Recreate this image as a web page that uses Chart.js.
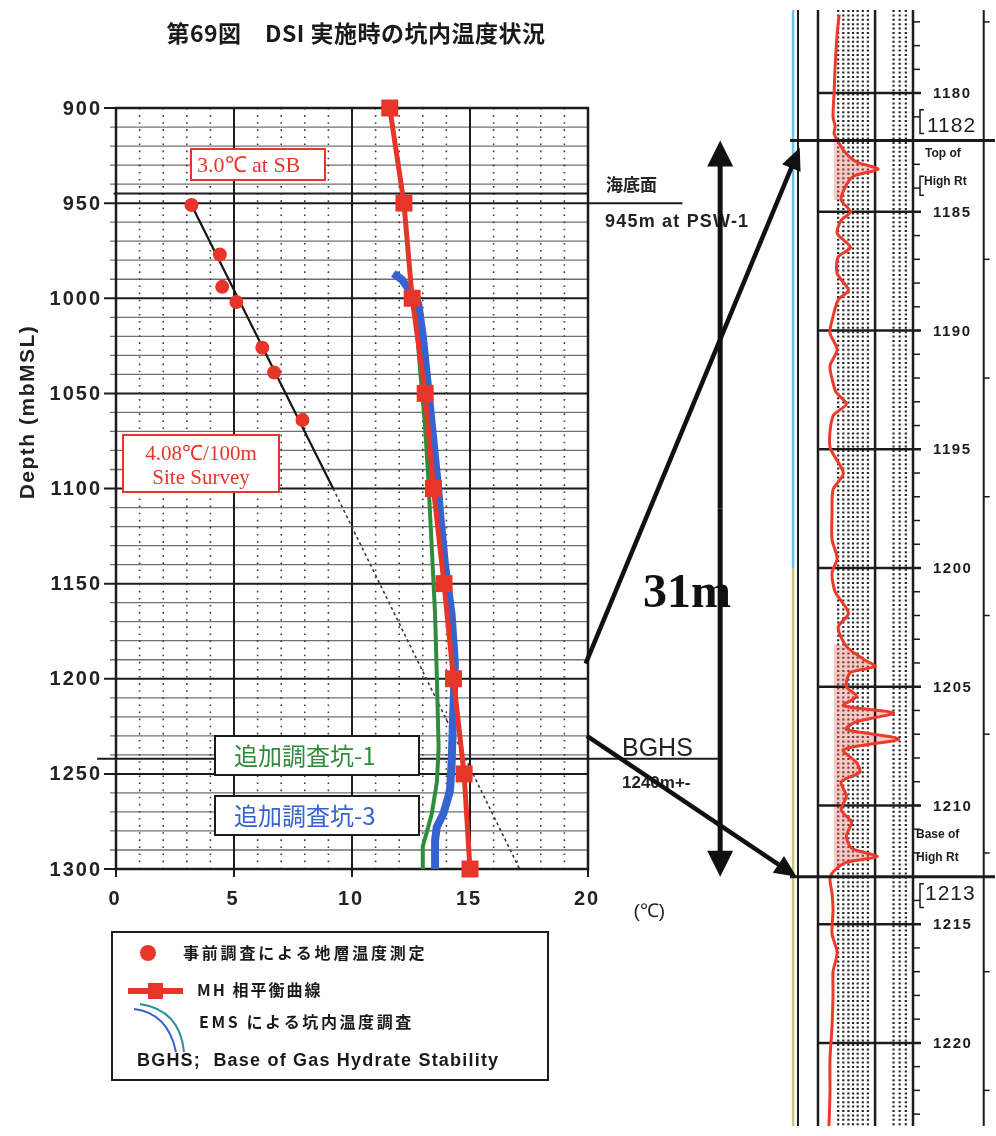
<!DOCTYPE html>
<html>
<head>
<meta charset="utf-8">
<script src="https://cdn.jsdelivr.net/npm/chart.js@4.4.1/dist/chart.umd.min.js"></script>
<style>
  html, body { margin: 0; padding: 0; background: #fff; }
  #wrap { position: relative; width: 996px; height: 1136px; }
  canvas { position: absolute; left: 0; top: 0; }
</style>
</head>
<body>
<div id="wrap">
  <canvas id="logChart" width="996" height="1136"></canvas>
  <canvas id="mainChart" width="996" height="1136"></canvas>
</div>
<script>
// ---- data ----
// site survey formation temperatures (red dots)
const surveyTemp = [3.2, 4.4, 4.5, 5.1, 6.2, 6.7, 7.9];
const surveyDepth = [951, 977, 994, 1002, 1026, 1039, 1064];

// 4.08 C/100m gradient line (solid part, then dashed part)
const gradSolidTemp = [3.2, 9.2];
const gradSolidDepth = [951, 1100];
const gradDashTemp = [9.2, 17.1];
const gradDashDepth = [1100, 1300];

// MH phase equilibrium curve (red squares)
const mhTemp = [11.6, 12.2, 12.55, 13.1, 13.45, 13.9, 14.3, 14.75, 15.0];
const mhDepth = [900, 950, 1000, 1050, 1100, 1150, 1200, 1250, 1300];

// 追加調査坑-3 (blue)
const well3Temp = [11.75, 12.1, 12.46, 12.81, 13.0, 13.09, 13.24, 13.45, 13.66, 13.73, 13.94, 14.22, 14.36, 14.29, 14.22, 14.15, 13.87, 13.59, 13.52, 13.52];
const well3Depth = [987, 990, 996, 1003, 1020, 1031, 1049, 1075, 1101, 1113, 1140, 1166, 1192, 1218, 1245, 1259, 1271, 1278, 1285, 1300];

// 追加調査坑-1 (green)
const well1Temp = [12.6, 12.74, 12.9, 13.09, 13.22, 13.38, 13.52, 13.6, 13.67, 13.6, 13.38, 13.16, 13.0, 13.0];
const well1Depth = [1005, 1015, 1040, 1066, 1092, 1131, 1166, 1201, 1236, 1254, 1271, 1281, 1288, 1300];

// axis ticks
const depthTicks = [900, 950, 1000, 1050, 1100, 1150, 1200, 1250, 1300];
const tempTicks = [0, 5, 10, 15, 20];

// resistivity log (right panel)
const logDepth = [1176.7, 1177.5, 1178.9, 1180.0, 1181.0, 1181.4, 1181.7, 1182.05, 1182.5, 1182.9, 1183.2, 1183.5, 1183.95, 1184.5, 1185.0, 1185.35, 1185.9, 1186.5, 1186.9, 1187.6, 1188.3, 1188.7, 1189.4, 1190.1, 1190.8, 1191.5, 1192.2, 1192.6, 1193.1, 1193.6, 1194.9, 1196.0, 1196.7, 1197.7, 1198.8, 1199.6, 1200.2, 1201.0, 1201.9, 1202.5, 1203.3, 1203.85, 1204.15, 1204.4, 1205.0, 1205.4, 1205.8, 1206.1, 1206.5, 1206.8, 1207.2, 1207.65, 1208.2, 1208.6, 1209.0, 1209.6, 1210.2, 1210.7, 1211.3, 1211.8, 1212.15, 1212.4, 1212.8, 1213.1, 1213.7, 1214.4, 1215.4, 1216.2, 1217.0, 1217.9, 1219.3, 1220.7, 1222.1, 1223.5];
const logValue = [4.8, 4.6, 4.4, 4.3, 4.2, 4.4, 4.3, 4.7, 5.4, 6.5, 8.6, 6.2, 5.4, 5.0, 5.9, 5.0, 4.6, 5.9, 4.7, 4.6, 5.7, 4.7, 4.2, 3.9, 4.6, 3.9, 4.2, 4.5, 5.5, 4.2, 3.9, 5.2, 4.2, 4.1, 4.1, 4.6, 4.1, 4.4, 5.7, 4.7, 5.5, 7.2, 8.3, 5.9, 5.5, 6.5, 5.2, 10.1, 6.3, 5.5, 10.6, 5.2, 6.5, 6.8, 5.0, 5.5, 5.0, 6.0, 5.5, 6.0, 8.5, 5.5, 4.2, 3.9, 4.1, 4.2, 4.1, 4.6, 4.2, 4.2, 4.1, 3.9, 3.9, 3.8];
const logMajorTicks = [1180, 1185, 1190, 1195, 1200, 1205, 1210, 1215, 1220];
const highRtTop = 1182;
const highRtBase = 1213;

const RED = "#e8352a";
const BLUE = "#3563cf";
const GREEN = "#2f8c3c";
const INK = "#1c1c1c";

const toXY = (xs, ys) => xs.map((v, i) => ({ x: v, y: ys[i] }));

// ---------------- right panel: resistivity log ----------------
const logFrame = {
  id: "logFrame",
  beforeDatasetsDraw(chart) {
    const { ctx, chartArea: a, scales: { x, y } } = chart;
    ctx.save();
    // coloured edge line (cyan above 1200, olive below)
    const ex = x.getPixelForValue(0.3);
    ctx.lineWidth = 2.5;
    ctx.strokeStyle = "#6cc6e6";
    ctx.beginPath(); ctx.moveTo(ex, a.top); ctx.lineTo(ex, y.getPixelForValue(1200)); ctx.stroke();
    ctx.strokeStyle = "#c9c77a";
    ctx.beginPath(); ctx.moveTo(ex, y.getPixelForValue(1200)); ctx.lineTo(ex, a.bottom); ctx.stroke();

    // dotted texture columns
    ctx.strokeStyle = "#262626";
    ctx.lineWidth = 2.2;
    ctx.setLineDash([2, 2.4]);
    [4.7, 5.2, 5.7, 6.15, 6.6, 7.1, 7.6, 10.1, 10.7, 11.3].forEach((v) => {
      const px = x.getPixelForValue(v);
      ctx.beginPath(); ctx.moveTo(px, a.top); ctx.lineTo(px, a.bottom); ctx.stroke();
    });
    ctx.setLineDash([]);

    // pink shading in the high resistivity zones
    const pts = chart.getDatasetMeta(0).data;
    const base = x.getPixelForValue(4.3);
    ctx.fillStyle = "rgba(240, 110, 100, 0.38)";
    [[1182, 1184.5], [1203.2, 1213]].forEach(([d0, d1]) => {
      ctx.beginPath();
      ctx.moveTo(base, y.getPixelForValue(d0));
      logDepth.forEach((d, i) => {
        if (d >= d0 && d <= d1) ctx.lineTo(Math.max(base, pts[i].x), pts[i].y);
      });
      ctx.lineTo(base, y.getPixelForValue(d1));
      ctx.closePath();
      ctx.fill();
    });

    // track borders
    ctx.strokeStyle = INK;
    [[0.78, 2], [2.73, 2.5], [8.3, 2.5], [12.0, 2.5], [18.9, 2]].forEach(([v, w]) => {
      const px = x.getPixelForValue(v);
      ctx.lineWidth = w;
      ctx.beginPath(); ctx.moveTo(px, a.top); ctx.lineTo(px, a.bottom); ctx.stroke();
    });

    // depth lines and labels
    const x0 = x.getPixelForValue(2.73);
    const xt = x.getPixelForValue(12.0);
    ctx.lineWidth = 1.5;
    for (let d = Math.ceil(y.min); d <= y.max; d++) {
      const py = y.getPixelForValue(d);
      ctx.beginPath(); ctx.moveTo(xt, py); ctx.lineTo(xt + 7, py); ctx.stroke();
    }
    for (let d = 1177; d <= y.max; d += 5) {
      const py = y.getPixelForValue(d);
      const xr = x.getPixelForValue(18.9);
      ctx.beginPath(); ctx.moveTo(xr, py); ctx.lineTo(xr + 6, py); ctx.stroke();
    }
    ctx.lineWidth = 2.5;
    ctx.fillStyle = INK;
    ctx.font = "bold 15px 'Liberation Sans', Arial, sans-serif";
    ctx.letterSpacing = "1.5px";
    ctx.textAlign = "left";
    ctx.textBaseline = "middle";
    logMajorTicks.forEach((d) => {
      const py = y.getPixelForValue(d);
      ctx.beginPath(); ctx.moveTo(x0, py); ctx.lineTo(xt + 8, py); ctx.stroke();
      ctx.fillText(String(d), xt + 20, py + 1);
    });
    ctx.restore();
  },
  afterDatasetsDraw(chart) {
    const { ctx, chartArea: a, scales: { x, y } } = chart;
    ctx.save();
    ctx.strokeStyle = INK;
    ctx.fillStyle = INK;
    ctx.lineWidth = 3;
    [highRtTop, highRtBase].forEach((d) => {
      const py = y.getPixelForValue(d);
      ctx.beginPath(); ctx.moveTo(a.left, py); ctx.lineTo(a.right, py); ctx.stroke();
    });
    const xt = x.getPixelForValue(12.0);
    ctx.textAlign = "left";
    ctx.textBaseline = "middle";
    ctx.font = "21px 'Liberation Sans', Arial, sans-serif";
    ctx.letterSpacing = "1px";
    ctx.fillText(String(highRtTop), xt + 14, y.getPixelForValue(highRtTop) - 14);
    ctx.fillText(String(highRtBase), xt + 12, y.getPixelForValue(highRtBase) + 18);
    ctx.font = "bold 12px 'Liberation Sans', Arial, sans-serif";
    ctx.letterSpacing = "0px";
    ctx.fillText("Top of", xt + 12, y.getPixelForValue(highRtTop) + 13);
    ctx.fillText("High Rt", xt + 11, y.getPixelForValue(highRtTop) + 41);
    ctx.fillText("Base of", xt + 3, y.getPixelForValue(highRtBase) - 42);
    ctx.fillText("High Rt", xt + 3, y.getPixelForValue(highRtBase) - 19);
    // brackets
    ctx.lineWidth = 1.5;
    [[highRtTop - 1.3, highRtTop - 0.3], [highRtTop + 1.5, highRtTop + 2.3], [highRtBase + 0.3, highRtBase + 1.3]].forEach(([d0, d1]) => {
      const px = xt + 7;
      ctx.beginPath();
      ctx.moveTo(px + 4, y.getPixelForValue(d0));
      ctx.lineTo(px, y.getPixelForValue(d0));
      ctx.lineTo(px, y.getPixelForValue(d1));
      ctx.lineTo(px + 4, y.getPixelForValue(d1));
      ctx.stroke();
    });
    ctx.restore();
  },
};

const logChart = new Chart(document.getElementById("logChart"), {
  type: "scatter",
  data: {
    datasets: [
      {
        label: "Rt",
        data: toXY(logValue, logDepth),
        showLine: true,
        borderColor: "#ee3a2a",
        borderWidth: 3,
        pointRadius: 0,
        tension: 0.25,
      },
    ],
  },
  options: {
    responsive: false,
    animation: false,
    devicePixelRatio: 1,
    layout: { padding: { left: 790, right: 1, top: 10, bottom: 10 } },
    scales: {
      x: { type: "linear", min: 0, max: 20, display: false },
      y: { type: "linear", min: 1176.5, max: 1223.5, reverse: true, display: false },
    },
    plugins: { legend: { display: false }, tooltip: { enabled: false } },
  },
  plugins: [logFrame],
});

// ---------------- main temperature chart ----------------
function drawArrow(ctx, x1, y1, x2, y2, w, head, half) {
  const ang = Math.atan2(y2 - y1, x2 - x1);
  const c = Math.cos(ang), s = Math.sin(ang);
  ctx.lineWidth = w;
  ctx.beginPath();
  ctx.moveTo(x1, y1);
  ctx.lineTo(x2 - c * head * 0.8, y2 - s * head * 0.8);
  ctx.stroke();
  ctx.beginPath();
  ctx.moveTo(x2, y2);
  ctx.lineTo(x2 - c * head + s * half, y2 - s * head - c * half);
  ctx.lineTo(x2 - c * head - s * half, y2 - s * head + c * half);
  ctx.closePath();
  ctx.fill();
}

function textBox(ctx, l, t, w, h, border) {
  ctx.fillStyle = "#fff";
  ctx.fillRect(l, t, w, h);
  ctx.strokeStyle = border;
  ctx.lineWidth = 2;
  ctx.strokeRect(l, t, w, h);
}

const gridLines = {
  id: "gridLines",
  beforeDatasetsDraw(chart) {
    const { ctx, chartArea: a, scales: { x, y } } = chart;
    ctx.save();
    for (let d = y.min; d <= y.max; d += 10) {
      const py = y.getPixelForValue(d);
      const major = depthTicks.includes(d);
      ctx.strokeStyle = major ? INK : "#707070";
      ctx.lineWidth = major ? 2 : 1.3;
      ctx.beginPath();
      ctx.moveTo(a.left - (major ? 12 : 6), py);
      ctx.lineTo(a.right, py);
      ctx.stroke();
    }
    for (let t = x.min; t <= x.max; t++) {
      const px = x.getPixelForValue(t);
      const major = tempTicks.includes(t);
      ctx.strokeStyle = major ? INK : "#3c3c3c";
      ctx.lineWidth = major ? 2 : 1.6;
      ctx.setLineDash(major ? [] : [1.6, 5.5]);
      ctx.beginPath();
      ctx.moveTo(px, a.top);
      ctx.lineTo(px, a.bottom + (major ? 8 : 0));
      ctx.stroke();
    }
    ctx.setLineDash([]);
    ctx.lineWidth = 2.5;
    ctx.strokeStyle = INK;
    ctx.strokeRect(a.left, a.top, a.right - a.left, a.bottom - a.top);

    // sea floor line and BGHS line
    ctx.lineWidth = 2;
    let py = y.getPixelForValue(945);
    ctx.beginPath(); ctx.moveTo(x.getPixelForValue(-0.1), py); ctx.lineTo(a.right, py); ctx.stroke();
    py = y.getPixelForValue(950);
    ctx.beginPath(); ctx.moveTo(a.right, py); ctx.lineTo(x.getPixelForValue(24), py); ctx.stroke();
    py = y.getPixelForValue(1242);
    ctx.beginPath(); ctx.moveTo(x.getPixelForValue(-0.8), py); ctx.lineTo(x.getPixelForValue(25.5), py); ctx.stroke();

    // tick labels
    ctx.fillStyle = "#222";
    ctx.font = "bold 20px 'Liberation Sans', Arial, sans-serif";
    ctx.letterSpacing = "2px";
    ctx.textBaseline = "middle";
    ctx.textAlign = "right";
    depthTicks.forEach((d) => ctx.fillText(String(d), a.left - 14, y.getPixelForValue(d) + 1));
    ctx.textAlign = "center";
    tempTicks.forEach((t) => ctx.fillText(String(t), x.getPixelForValue(t) - 1, a.bottom + 30));
    ctx.letterSpacing = "0px";
    ctx.font = "19px 'Liberation Sans', Arial, sans-serif";
    ctx.fillText("(℃)", x.getPixelForValue(22.6), a.bottom + 43);

    // axis title
    ctx.save();
    ctx.translate(28, 412);
    ctx.rotate(-Math.PI / 2);
    ctx.font = "bold 21px 'Liberation Sans', Arial, sans-serif";
    ctx.letterSpacing = "1.5px";
    ctx.fillText("Depth (mbMSL)", 0, 0);
    ctx.restore();
    ctx.restore();
  },
};

const annotations = {
  id: "annotations",
  afterDraw(chart) {
    const { ctx, scales: { x, y } } = chart;
    const lx = logChart.scales.x, ly = logChart.scales.y;
    ctx.save();

    // title
    ctx.fillStyle = "#1a1a1a";
    ctx.font = "bold 23px 'Noto Sans CJK JP', sans-serif";
    ctx.letterSpacing = "0.5px";
    ctx.textAlign = "center";
    ctx.textBaseline = "middle";
    ctx.fillText("第69図　DSI 実施時の坑内温度状況", 356, 33);
    ctx.letterSpacing = "0px";

    // red annotation boxes
    textBox(ctx, 191, 149, 134, 31, RED);
    textBox(ctx, 123, 435, 156, 57, RED);
    ctx.fillStyle = RED;
    ctx.font = "22px 'Liberation Serif', 'Times New Roman', serif";
    ctx.textAlign = "left";
    ctx.fillText("3.0℃ at SB", 197, 166);
    ctx.font = "21px 'Liberation Serif', 'Times New Roman', serif";
    ctx.textAlign = "center";
    ctx.fillText("4.08℃/100m", 201, 454);
    ctx.fillText("Site Survey", 201, 478);

    // well labels
    textBox(ctx, 215, 736, 204, 39, INK);
    textBox(ctx, 215, 796, 204, 39, INK);
    ctx.font = "24px 'Noto Sans CJK JP', sans-serif";
    ctx.textAlign = "left";
    ctx.fillStyle = GREEN;
    ctx.fillText("追加調査坑-1", 234, 756);
    ctx.fillStyle = BLUE;
    ctx.fillText("追加調査坑-3", 234, 816);

    // right side labels
    ctx.fillStyle = "#222";
    ctx.font = "bold 17px 'Noto Sans CJK JP', sans-serif";
    ctx.fillText("海底面", 606, 185);
    ctx.font = "bold 18px 'Liberation Sans', Arial, sans-serif";
    ctx.letterSpacing = "1.2px";
    ctx.fillText("945m at PSW-1", 605, 222);
    ctx.letterSpacing = "0px";
    ctx.font = "25px 'Liberation Sans', Arial, sans-serif";
    ctx.fillText("BGHS", 622, 749);
    ctx.font = "bold 17px 'Liberation Sans', Arial, sans-serif";
    ctx.fillText("1240m+-", 622, 783);

    // arrows to the log
    ctx.strokeStyle = "#111";
    ctx.fillStyle = "#111";
    drawArrow(ctx, x.getPixelForValue(19.9), y.getPixelForValue(1192), lx.getPixelForValue(0.95), ly.getPixelForValue(1182.3), 4.5, 22, 10);
    drawArrow(ctx, x.getPixelForValue(19.95), y.getPixelForValue(1230), lx.getPixelForValue(0.65), ly.getPixelForValue(highRtBase), 4.5, 22, 10);
    const ax = x.getPixelForValue(25.6);
    const y0 = ly.getPixelForValue(highRtTop), y1 = ly.getPixelForValue(highRtBase);
    drawArrow(ctx, ax, (y0 + y1) / 2, ax, y0, 5, 26, 13);
    drawArrow(ctx, ax, (y0 + y1) / 2, ax, y1, 5, 26, 13);

    ctx.fillStyle = "#111";
    ctx.font = "bold 48px 'Liberation Serif', 'Times New Roman', serif";
    ctx.textAlign = "left";
    ctx.fillText(String(highRtBase - highRtTop) + "m", 643, 595);

    // legend
    ctx.strokeStyle = INK;
    ctx.lineWidth = 2;
    ctx.strokeRect(112, 932, 436, 148);
    ctx.fillStyle = RED;
    ctx.beginPath(); ctx.arc(148, 953, 8, 0, Math.PI * 2); ctx.fill();
    ctx.strokeStyle = RED;
    ctx.lineWidth = 6;
    ctx.beginPath(); ctx.moveTo(128, 991); ctx.lineTo(183, 991); ctx.stroke();
    ctx.fillRect(148, 983, 15, 16);
    ctx.lineWidth = 2;
    ctx.strokeStyle = BLUE;
    ctx.beginPath(); ctx.moveTo(134, 1009); ctx.quadraticCurveTo(168, 1013, 176, 1052); ctx.stroke();
    ctx.strokeStyle = "#2a8f94";
    ctx.beginPath(); ctx.moveTo(140, 1004); ctx.quadraticCurveTo(180, 1010, 184, 1052); ctx.stroke();

    ctx.fillStyle = "#1a1a1a";
    ctx.font = "bold 16px 'Noto Sans CJK JP', sans-serif";
    ctx.letterSpacing = "2.8px";
    ctx.fillText("事前調査による地層温度測定", 183, 953);
    ctx.letterSpacing = "2px";
    ctx.fillText("MH 相平衡曲線", 197, 990);
    ctx.letterSpacing = "2.6px";
    ctx.fillText("EMS による坑内温度調査", 199, 1022);
    ctx.font = "bold 18px 'Liberation Sans', Arial, sans-serif";
    ctx.letterSpacing = "1.2px";
    ctx.fillText("BGHS;  Base of Gas Hydrate Stability", 137, 1061);
    ctx.restore();
  },
};

new Chart(document.getElementById("mainChart"), {
  type: "scatter",
  data: {
    datasets: [
      {
        label: "事前調査による地層温度測定",
        data: toXY(surveyTemp, surveyDepth),
        pointRadius: 7,
        pointBackgroundColor: RED,
        pointBorderWidth: 0,
        order: 0,
      },
      {
        label: "MH 相平衡曲線",
        data: toXY(mhTemp, mhDepth),
        showLine: true,
        borderColor: RED,
        borderWidth: 5,
        pointStyle: "rect",
        pointRadius: 12,
        pointBackgroundColor: RED,
        pointBorderWidth: 0,
        clip: false,
        order: 1,
      },
      {
        label: "追加調査坑-3",
        data: toXY(well3Temp, well3Depth),
        showLine: true,
        borderColor: BLUE,
        borderWidth: 8,
        pointRadius: 0,
        order: 2,
      },
      {
        label: "追加調査坑-1",
        data: toXY(well1Temp, well1Depth),
        showLine: true,
        borderColor: GREEN,
        borderWidth: 4,
        pointRadius: 0,
        order: 3,
      },
      {
        label: "gradient",
        data: toXY(gradSolidTemp, gradSolidDepth),
        showLine: true,
        borderColor: "#151515",
        borderWidth: 2.2,
        pointRadius: 0,
        order: 4,
      },
      {
        label: "gradient (extrapolated)",
        data: toXY(gradDashTemp, gradDashDepth),
        showLine: true,
        borderColor: "#3a3a3a",
        borderWidth: 1.6,
        borderDash: [3, 3],
        pointRadius: 0,
        order: 5,
      },
    ],
  },
  options: {
    responsive: false,
    animation: false,
    devicePixelRatio: 1,
    layout: { padding: { left: 116, right: 408, top: 108, bottom: 267 } },
    scales: {
      x: { type: "linear", min: 0, max: 20, display: false },
      y: { type: "linear", min: 900, max: 1300, reverse: true, display: false },
    },
    plugins: { legend: { display: false }, tooltip: { enabled: false } },
  },
  plugins: [gridLines, annotations],
});
</script>
</body>
</html>
